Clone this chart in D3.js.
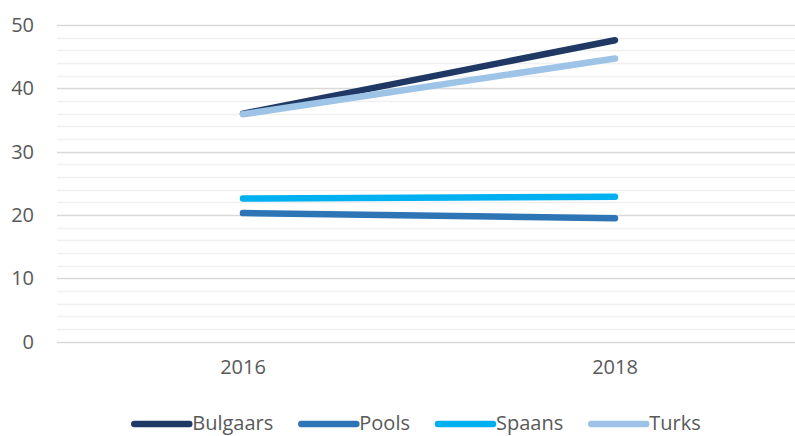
<!DOCTYPE html>
<html>
<head>
<meta charset="utf-8">
<script src="https://cdn.jsdelivr.net/npm/d3@7"></script>
<style>
  html, body { margin: 0; padding: 0; background: #fff; }
  svg { display: block; }
  text { font-family: "Open Sans", "Noto Sans", sans-serif; fill: #595959; }
</style>
</head>
<body>
<svg id="chart" width="795" height="436"></svg>
<script>
const categories = ["2016", "2018"];
const seriesNames = ["Bulgaars", "Pools", "Spaans", "Turks"];
const bulgaars = [36.0, 47.6];
const pools = [20.3, 19.5];
const spaans = [22.6, 22.9];
const turks = [35.9, 44.7];
const seriesColors = ["#1f3864", "#2e75b6", "#00b0f0", "#9dc3e6"];
const yTicks = [0, 10, 20, 30, 40, 50];
const yMinorTicks = d3.range(0, 51, 2);

const series = [
  { name: seriesNames[0], values: bulgaars, color: seriesColors[0] },
  { name: seriesNames[1], values: pools, color: seriesColors[1] },
  { name: seriesNames[2], values: spaans, color: seriesColors[2] },
  { name: seriesNames[3], values: turks, color: seriesColors[3] }
];

const svg = d3.select("#chart");
const plotLeft = 57, plotRight = 801, plotTop = 25, plotBottom = 341.7;

const x = d3.scaleBand().domain(categories).range([plotLeft, plotRight]);
const y = d3.scaleLinear().domain([0, 50]).range([plotBottom, plotTop]);

// minor gridlines
svg.append("g").selectAll("line").data(yMinorTicks.filter(v => v % 10 !== 0)).join("line")
  .attr("x1", plotLeft).attr("x2", 795)
  .attr("y1", d => Math.round(y(d)) + 0.5).attr("y2", d => Math.round(y(d)) + 0.5)
  .attr("stroke", "#f0f0f0").attr("stroke-width", 1.5);

// major gridlines
svg.append("g").selectAll("line").data(yTicks).join("line")
  .attr("x1", plotLeft).attr("x2", 795)
  .attr("y1", d => Math.round(y(d)) + 0.5).attr("y2", d => Math.round(y(d)) + 0.5)
  .attr("stroke", "#d9d9d9").attr("stroke-width", 1.5);

// y axis labels
const yAxis = d3.axisLeft(y).tickValues(yTicks).tickSize(0).tickPadding(0).tickFormat(d3.format("d"));
const gy = svg.append("g").attr("transform", "translate(34,0)").call(yAxis);
gy.select(".domain").remove();
gy.selectAll("text").style("font-size", "20px").style("font-family", '"Open Sans", sans-serif').attr("fill", "#595959");

// x axis labels
const xAxis = d3.axisBottom(x).tickSize(0).tickPadding(0);
const gx = svg.append("g").attr("transform", "translate(0,360)").call(xAxis);
gx.select(".domain").remove();
gx.selectAll("text").style("font-size", "20px").style("font-family", '"Open Sans", sans-serif').attr("fill", "#595959");

// lines
const line = d3.line()
  .x((d, i) => x(categories[i]) + x.bandwidth() / 2)
  .y(d => y(d));

svg.append("g").selectAll("path").data(series).join("path")
  .attr("d", d => line(d.values))
  .attr("fill", "none")
  .attr("stroke", d => d.color)
  .attr("stroke-width", 6.5)
  .attr("stroke-linecap", "round")
  .attr("stroke-linejoin", "round");

// legend
const legend = svg.append("g");
const items = legend.selectAll("g").data(series).join("g");
items.append("line")
  .attr("x1", 3).attr("x2", 58)
  .attr("y1", 0).attr("y2", 0)
  .attr("stroke", d => d.color)
  .attr("stroke-width", 6.5)
  .attr("stroke-linecap", "round");
items.append("text")
  .attr("x", 61).attr("y", 6)
  .style("font-size", "20px")
  .text(d => d.name);

let cx = 0;
const offsets = [];
items.each(function(d) {
  const w = 61 + this.querySelector("text").getComputedTextLength();
  offsets.push(cx);
  cx += w + 25;
});
const total = cx - 25;
const startX = 416 - total / 2;
items.attr("transform", (d, i) => `translate(${startX + offsets[i]},424)`);
</script>
</body>
</html>
